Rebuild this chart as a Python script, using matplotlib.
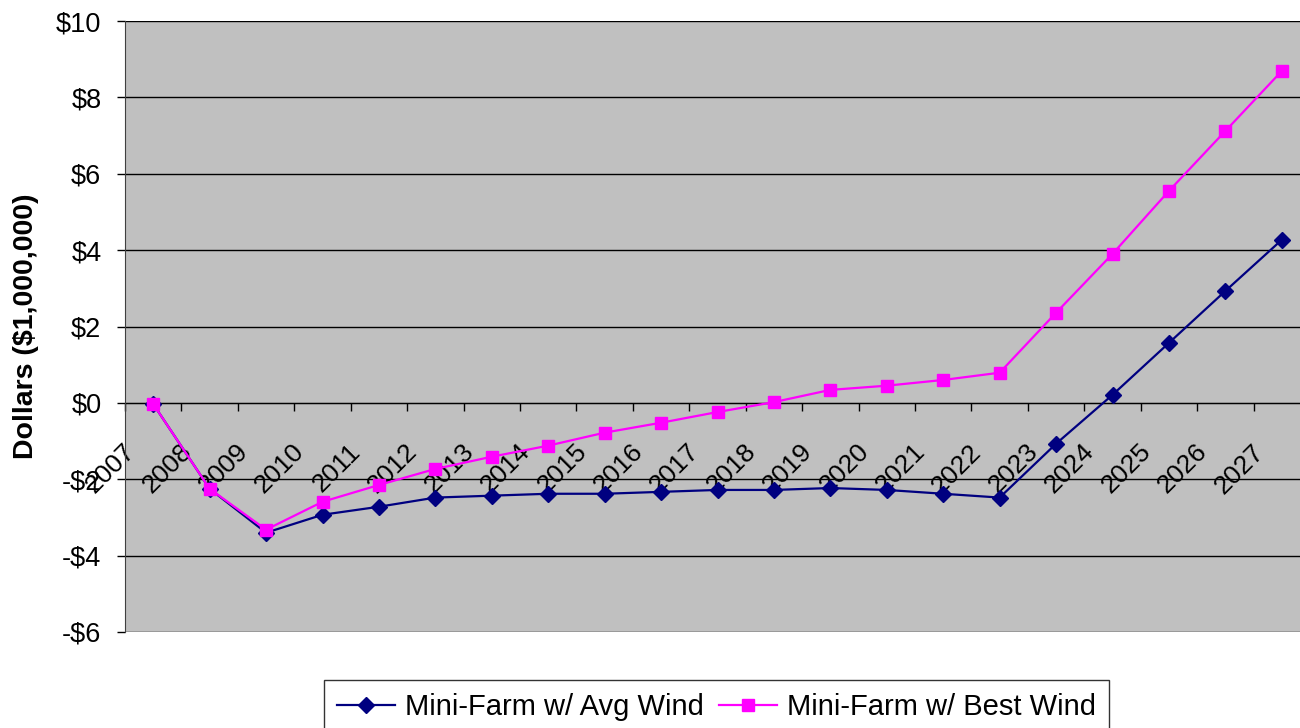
import matplotlib
matplotlib.use('Agg')
import matplotlib.pyplot as plt
from matplotlib.transforms import ScaledTranslation
from matplotlib.ticker import FixedLocator, FuncFormatter

plt.rcParams['font.family'] = ['Liberation Sans', 'DejaVu Sans']

years = [str(y) for y in range(2007, 2028)]
avg_wind = [-0.03, -2.25, -3.40, -2.93, -2.72, -2.48, -2.43, -2.38, -2.38, -2.33, -2.28,
            -2.28, -2.23, -2.28, -2.38, -2.48, -1.07, 0.21, 1.57, 2.93, 4.27]
best_wind = [-0.03, -2.25, -3.32, -2.59, -2.15, -1.73, -1.41, -1.12, -0.78, -0.52, -0.24,
             0.02, 0.34, 0.45, 0.60, 0.79, 2.36, 3.90, 5.55, 7.12, 8.69]

fig = plt.figure(figsize=(13, 7.28), dpi=100)
ax = fig.add_axes([125 / 1300, 1 - 632 / 728, 1185 / 1300, 611 / 728])
ax.set_facecolor('#C0C0C0')

x = list(range(len(years)))
ax.plot(x, avg_wind, color='#000080', lw=1.6, marker='D', ms=8,
        label='Mini-Farm w/ Avg Wind', zorder=3)
ax.plot(x, best_wind, color='#FF00FF', lw=1.6, marker='s', ms=8.5,
        label='Mini-Farm w/ Best Wind', zorder=4)

ax.set_xlim(-0.5, len(years) - 0.5)
ax.set_ylim(-6, 10)
ax.set_yticks(range(-6, 11, 2))
ax.yaxis.set_major_formatter(FuncFormatter(
    lambda v, p: f'-${abs(v):.0f}' if v < 0 else f'${v:.0f}'))
ax.tick_params(axis='y', length=6, width=1, pad=11, labelsize=19.5, direction='out')
ax.grid(axis='y', color='black', lw=1)
ax.set_axisbelow(True)

# x axis crosses at zero
for s in ('top', 'right'):
    ax.spines[s].set_visible(False)
ax.spines['bottom'].set_position(('data', 0))
ax.spines['bottom'].set_zorder(2)
ax.spines['left'].set_color('#404040')

ax.set_xticks(x)
ax.set_xticklabels(years, rotation=45, ha='right', va='baseline',
                   rotation_mode='anchor', fontsize=19)
ax.xaxis.set_minor_locator(FixedLocator([i + 0.5 for i in range(-1, len(years))]))
ax.tick_params(axis='x', which='major', length=0, pad=0)
ax.tick_params(axis='x', which='minor', length=6, width=1, direction='out')
off = ScaledTranslation(-0.17, -0.50, fig.dpi_scale_trans)
for lab in ax.get_xticklabels():
    lab.set_transform(lab.get_transform() + off)

ax.set_ylabel('Dollars ($1,000,000)', fontsize=20.5, fontweight='bold')
ax.yaxis.set_label_coords(-0.0726, 0.5)

leg = fig.legend(loc='upper center', bbox_to_anchor=(716.5 / 1300, 1 - 680 / 728),
                 ncol=2, fontsize=21, frameon=True, fancybox=False,
                 edgecolor='black', handlelength=2.0, handletextpad=0.35,
                 columnspacing=0.5, borderpad=0.45, borderaxespad=0)
leg.get_frame().set_linewidth(1)

fig.savefig('out.png', dpi=100)
